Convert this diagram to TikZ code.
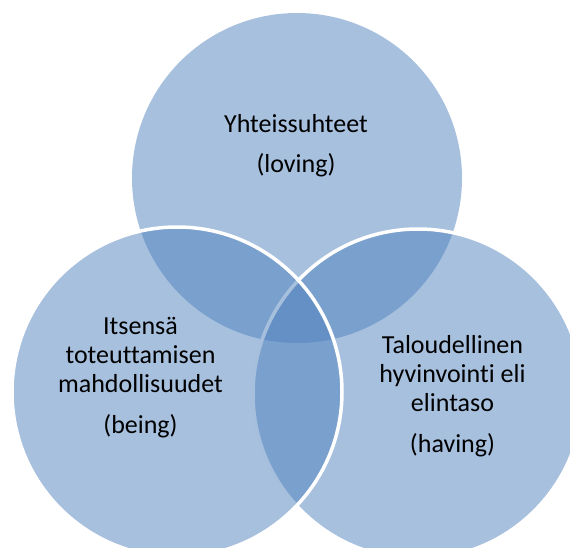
\documentclass[tikz,border=0pt]{standalone}
\usepackage{fontspec}
\setmainfont{Carlito}[Ligatures={NoCommon}]
\definecolor{vennblue}{HTML}{4F81BD}

\begin{document}
\begin{tikzpicture}[x=1pt,y=-1pt,
        setcircle/.style={circle, minimum size=330pt, inner sep=0pt, fill=vennblue, fill opacity=0.5},
        setborder/.style={setcircle, draw=white, draw opacity=1, line width=3.5pt},
        setlabel/.style={align=center, font=\fontsize{26}{29}\selectfont, text=black, inner sep=0pt, anchor=base}]
        \useasboundingbox (0,0) rectangle (570,547);
        \clip (0,0) rectangle (570,547);
        % the three sets
        \node[setcircle] (loving) at (297,178) {};
        \node[setborder] (having) at (418,394) {};
        \node[setborder] (being) at (177,392) {};
        % labels, placed at the baseline of the last line
        \node[setlabel] (lovingtext) at (296,172) {Yhteissuhteet\\[11pt](loving)};
        \node[setlabel] (beingtext) at (140.5,433) {Itsensä\\toteuttamisen\\mahdollisuudet\\[11.5pt](being)};
        \node[setlabel] (havingtext) at (452.5,452) {Taloudellinen\\hyvinvointi eli\\elintaso\\[11.5pt](having)};
    \end{tikzpicture}
\end{document}
